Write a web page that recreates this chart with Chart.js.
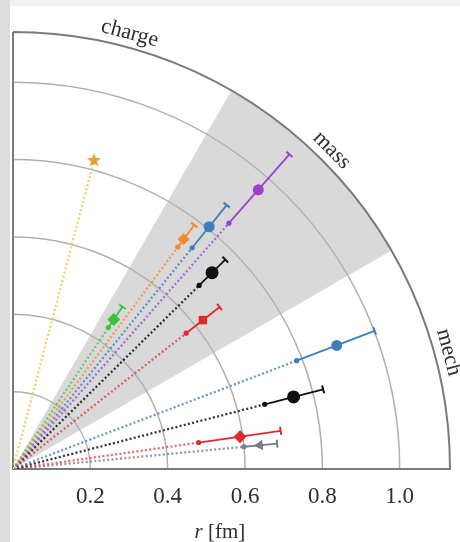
<!DOCTYPE html>
<html>
<head>
<meta charset="utf-8">
<script src="https://cdn.jsdelivr.net/npm/chart.js@4.4.1/dist/chart.umd.min.js"></script>
<style>
  html, body { margin: 0; padding: 0; background: #fff; }
  #wrap { position: relative; width: 460px; height: 542px; overflow: hidden; background: #fff; }
  #topStrip { position: absolute; left: 0; top: 0; width: 460px; height: 6px; background: #f1f1f1; }
  #leftStrip { position: absolute; left: 0; top: 0; width: 10px; height: 542px; background: #dcdcdc; }
  canvas { position: absolute; left: 0; top: 0; }
</style>
</head>
<body>
<div id="wrap">
  <div id="topStrip"></div>
  <div id="leftStrip"></div>
  <canvas id="chart" width="460" height="542"></canvas>
</div>
<script>
// direction of each result (degrees from the r axis) and radii in fm
const angles  = [75.3, 53.4, 51.0, 48.7, 44.6, 56.0, 38.1, 20.9, 14.4, 8.1, 5.5];
const radii   = [0.825, 0.740, 0.806, 0.961, 0.723, 0.466, 0.624, 0.896, 0.749, 0.593, 0.641];
const lowEnd  = [null, 0.715, 0.736, 0.846, 0.676, 0.441, 0.569, 0.785, 0.672, 0.485, 0.600];
const highEnd = [null, 0.786, 0.878, 1.083, 0.771, 0.506, 0.679, 1.001, 0.828, 0.699, 0.686];

const colors = ["#dca339", "#f08a2a", "#3d7fbd", "#9a42cf", "#111111", "#3cc23c",
                "#e02a2a", "#3d7fbd", "#111111", "#e02a2a", "#7a7b8c"];
const rayColors = ["#e4d766", "rgba(240,138,42,0.75)", "rgba(61,127,189,0.8)", "rgba(154,66,207,0.75)",
                   "rgba(17,17,17,0.85)", "rgba(60,194,60,0.7)", "rgba(224,42,42,0.7)",
                   "rgba(61,127,189,0.8)", "rgba(17,17,17,0.85)", "rgba(224,42,42,0.7)", "rgba(122,123,140,0.8)"];
const markers = ["star", "rectRot", "circle", "circle", "circle", "rectRot",
                 "rect", "circle", "circle", "rectRot", "triangle"];
const markerSizes = [7, 6, 5.5, 5.5, 6.5, 6.5, 6, 5.5, 6.5, 6.5, 6];

const sectorNames = ["mech", "mass", "charge"];
const sectorEdges = [0, 30, 60, 90];
const gridRadii = [0.2, 0.4, 0.6, 0.8, 1.0];
const tickValues = [0.2, 0.4, 0.6, 0.8, 1.0];
const rMax = 1.13;

const DEG = Math.PI / 180;
const polar = (r, deg) => ({ x: r * Math.cos(deg * DEG), y: r * Math.sin(deg * DEG) });

// filled five point star for the lone charge result
function makeStar(color, size) {
  const c = document.createElement("canvas");
  c.width = c.height = size;
  const g = c.getContext("2d");
  g.fillStyle = color;
  g.beginPath();
  for (let k = 0; k < 10; k++) {
    const rr = k % 2 ? size * 0.21 : size * 0.5;
    const t = -Math.PI / 2 + k * Math.PI / 5;
    g.lineTo(size / 2 + rr * Math.cos(t), size / 2 + rr * Math.sin(t));
  }
  g.closePath();
  g.fill();
  return c;
}
const starImg = makeStar(colors[0], 15);

const datasets = [];
angles.forEach((a, i) => {
  const rayEnd = lowEnd[i] !== null ? lowEnd[i] : radii[i];
  // dotted ray from the origin
  datasets.push({
    data: [polar(0, a), polar(rayEnd, a)],
    showLine: true,
    borderColor: rayColors[i],
    borderWidth: 2.3,
    borderDash: [2, 2.3],
    pointRadius: 0,
    order: 3,
  });
  // radial error bar
  if (lowEnd[i] !== null) {
    datasets.push({
      data: [polar(lowEnd[i], a), polar(highEnd[i], a)],
      showLine: true,
      borderColor: colors[i],
      backgroundColor: colors[i],
      borderWidth: 1.8,
      pointStyle: ["circle", "line"],
      pointRadius: [2.6, 4],
      pointRotation: [0, 90 - a],
      pointBorderWidth: [0, 2],
      pointBorderColor: colors[i],
      order: 2,
    });
  }
  // central value
  datasets.push({
    data: [polar(radii[i], a)],
    pointStyle: markers[i] === "star" ? starImg : markers[i],
    pointRadius: markerSizes[i],
    pointRotation: markers[i] === "triangle" ? 270 - a : 0,
    backgroundColor: colors[i],
    borderColor: colors[i],
    borderWidth: 0,
    order: 1,
  });
});

const polarFrame = {
  id: "polarFrame",
  beforeDatasetsDraw(chart) {
    const { ctx, scales: { x, y } } = chart;
    const ox = x.getPixelForValue(0);
    const oy = y.getPixelForValue(0);
    const px = (r) => x.getPixelForValue(r) - ox;
    const R = px(rMax);
    ctx.save();

    // shaded "mass" sector
    ctx.fillStyle = "#d9d9d9";
    ctx.beginPath();
    ctx.moveTo(ox, oy);
    ctx.arc(ox, oy, R, -sectorEdges[2] * DEG, -sectorEdges[1] * DEG);
    ctx.closePath();
    ctx.fill();

    // circular grid
    ctx.strokeStyle = "#b0b0b0";
    ctx.lineWidth = 1.5;
    gridRadii.forEach((r) => {
      ctx.beginPath();
      ctx.arc(ox, oy, px(r), -Math.PI / 2, 0);
      ctx.stroke();
    });

    // frame
    ctx.strokeStyle = "#7a7a7a";
    ctx.lineWidth = 2;
    ctx.beginPath();
    ctx.moveTo(ox, oy - R);
    ctx.lineTo(ox, oy);
    ctx.lineTo(ox + R, oy);
    ctx.arc(ox, oy, R, 0, -Math.PI / 2, true);
    ctx.stroke();

    // sector names along the rim
    ctx.fillStyle = "#2e2e2e";
    ctx.font = "22px 'Liberation Serif'";
    ctx.textAlign = "center";
    ctx.textBaseline = "middle";
    sectorNames.forEach((name, i) => {
      const m = (sectorEdges[i] + sectorEdges[i + 1]) / 2;
      const rr = R + 14;
      ctx.save();
      ctx.translate(ox + rr * Math.cos(m * DEG), oy - rr * Math.sin(m * DEG));
      ctx.rotate((90 - m) * DEG);
      ctx.fillText(name, 0, 0);
      ctx.restore();
    });
    ctx.restore();
  },
  afterDraw(chart) {
    // axis title: italic r, upright unit
    const { ctx, scales: { x } } = chart;
    ctx.save();
    ctx.fillStyle = "#2e2e2e";
    ctx.textBaseline = "middle";
    const f1 = "italic 21px 'Liberation Serif'";
    const f2 = "21px 'Liberation Serif'";
    ctx.font = f1;
    const w1 = ctx.measureText("r").width;
    ctx.font = f2;
    const w2 = ctx.measureText(" [fm]").width;
    const cx = x.getPixelForValue(0.535) - (w1 + w2) / 2;
    const cy = 532;
    ctx.font = f1;
    ctx.textAlign = "left";
    ctx.fillText("r", cx, cy);
    ctx.font = f2;
    ctx.fillText(" [fm]", cx + w1, cy);
    ctx.restore();
  },
};

new Chart(document.getElementById("chart"), {
  type: "scatter",
  data: { datasets },
  options: {
    responsive: false,
    animation: false,
    devicePixelRatio: 1,
    layout: { padding: { top: 32, left: 13, right: 10, bottom: 0 } },
    plugins: { legend: { display: false }, tooltip: { enabled: false } },
    scales: {
      x: {
        type: "linear",
        min: 0,
        max: rMax,
        grid: { display: false },
        border: { display: false },
        afterBuildTicks: (s) => { s.ticks = tickValues.map((v) => ({ value: v })); },
        afterFit: (s) => { s.height = 73; },
        ticks: {
          padding: 6,
          color: "#2e2e2e",
          font: { family: "Liberation Serif", size: 23 },
          callback: (v) => Number(v).toFixed(1),
        },
      },
      y: { type: "linear", min: 0, max: rMax, display: false },
    },
  },
  plugins: [polarFrame],
});
</script>
</body>
</html>
